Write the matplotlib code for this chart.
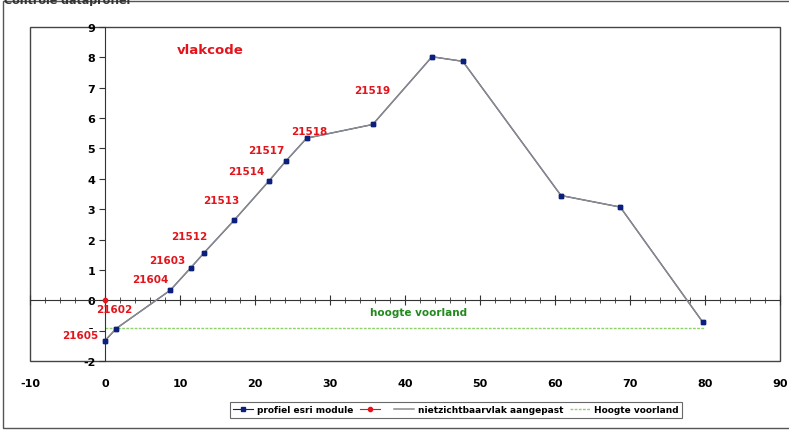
import matplotlib.pyplot as plt
from matplotlib.patches import Rectangle
from matplotlib.ticker import MultipleLocator

# profile points (afstand, hoogte)
x_prof = [0, 1.5, 8.7, 11.4, 13.2, 17.2, 21.9, 24.1, 26.9, 35.7, 43.6, 47.7, 60.8, 68.7, 79.7]
y_prof = [-1.33, -0.93, 0.33, 1.06, 1.56, 2.63, 3.94, 4.58, 5.34, 5.79, 8.02, 7.87, 3.45, 3.07, -0.72]

# red series: single point
x_red = [0]
y_red = [0]

# hoogte voorland
x_voor = [0, 80]
y_voor = [-0.92, -0.92]

# vlakcode labels
codes = ["21605", "21602", "21604", "21603", "21512", "21513", "21514", "21517", "21518", "21519"]
code_x = [-3.3, 1.2, 6.0, 8.3, 11.3, 15.5, 18.9, 21.5, 27.2, 35.6]
code_y = [-1.13, -0.3, 0.7, 1.32, 2.11, 3.3, 4.27, 4.95, 5.59, 6.92]

x_ticks = list(range(-10, 91, 10))
y_ticks = list(range(-2, 10))

red = '#e3141b'
navy = '#0b1f7c'
green_txt = '#218a1c'
green_line = '#8fd06a'

plt.rcParams['font.family'] = 'DejaVu Sans'
plt.rcParams['font.weight'] = 'bold'
plt.rcParams['axes.unicode_minus'] = False

fig = plt.figure(figsize=(7.89, 4.31), dpi=100)
ax = fig.add_axes([30 / 789, 69 / 431, 750 / 789, 334 / 431])

# outer chart border
fig.patches.append(Rectangle((3 / 789, 2 / 431), 1.05, 427 / 431, transform=fig.transFigure,
                             fill=False, edgecolor='#555555', linewidth=1.0))
fig.text(0.005, 0.998, 'Controle dataprofiel', fontsize=8, va='center', ha='left', color='#333333')

ax.plot(x_prof, y_prof, color=navy, linewidth=0.8, marker='s', markersize=3.5,
        label='profiel esri module', zorder=3)
ax.plot(x_red, y_red, color=red, linewidth=0.8, marker='o', markersize=3,
        label=' ', zorder=4)
ax.plot(x_prof, y_prof, color='#8a8a8a', linewidth=1.1, label='nietzichtbaarvlak aangepast', zorder=3.5)
ax.plot(x_prof, y_prof, color=navy, linestyle='none', marker='s', markersize=3.5, zorder=5)
ax.plot(x_voor, y_voor, color=green_line, linewidth=1.0, linestyle=(0, (2, 1)),
        label='Hoogte voorland', zorder=2)

for c, cx, cy in zip(codes, code_x, code_y):
    ax.text(cx, cy, c, color=red, fontsize=7.5, fontweight='bold', ha='center', va='center', zorder=6,
            bbox=dict(facecolor='white', edgecolor='none', pad=0.5) if c == "21605" else None)
ax.text(14, 8.25, 'vlakcode', color=red, fontsize=9.5, fontweight='bold', ha='center', va='center')
ax.text(41.8, -0.37, 'hoogte voorland', color=green_txt, fontsize=7.5, fontweight='bold',
        ha='center', va='center')

ax.set_xlim(-10, 90)
ax.set_ylim(-2, 9)

for s in ['top', 'right']:
    ax.spines[s].set_visible(False)
ax.spines['left'].set_position(('data', 0))
ax.spines['bottom'].set_position(('data', 0))
ax.spines['left'].set_color('#333333')
ax.spines['bottom'].set_color('#333333')
ax.add_patch(Rectangle((0, 0), 1, 1, transform=ax.transAxes, fill=False,
                       edgecolor='#444444', linewidth=1.0, clip_on=False, zorder=1))

ax.set_xticks(x_ticks)
ax.xaxis.set_minor_locator(MultipleLocator(2))
ax.tick_params(axis='x', which='major', direction='inout', length=7, width=0.8,
               labelbottom=False, color='#333333')
ax.tick_params(axis='x', which='minor', direction='inout', length=4, width=0.6, color='#333333')

ax.set_yticks(y_ticks)
ax.tick_params(axis='y', which='major', direction='out', length=4, width=0.8,
               labelsize=8, pad=3, color='#333333')
for lbl in ax.get_yticklabels():
    lbl.set_fontweight('bold')

sec = ax.secondary_xaxis('bottom')
sec.set_xticks(x_ticks)
sec.tick_params(length=0, labelsize=8, pad=12)
sec.spines['bottom'].set_visible(False)
for lbl in sec.get_xticklabels():
    lbl.set_fontweight('bold')

leg = fig.legend(loc='center', bbox_to_anchor=(456 / 789, 20 / 431), ncol=4, fontsize=6.5,
                 frameon=True, fancybox=False, edgecolor='#444444', handlelength=2.2,
                 handletextpad=0.4, columnspacing=0.8, borderpad=0.35)
leg.get_frame().set_linewidth(0.8)
for t in leg.get_texts():
    t.set_fontweight('bold')

fig.savefig('out.png', dpi=100)
